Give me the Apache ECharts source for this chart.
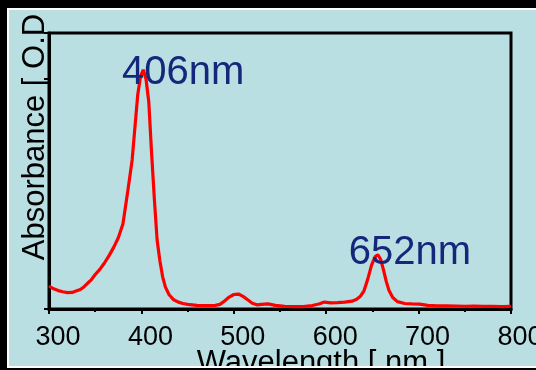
<!DOCTYPE html>
<html>
<head>
<meta charset="utf-8">
<script src="https://cdn.jsdelivr.net/npm/echarts@6/dist/echarts.min.js"></script>
<style>html,body{margin:0;padding:0;background:#000;}#c{width:536px;height:370px;}</style>
</head>
<body>
<div id="c"></div>
<script>
// Data
var wavelength = [300,305,310,315,320,325,330,334,338,342,346,350,355,360,365,370,375,380,385,390,393,396,399,402,405,408,411,414,417,420,423,426,430,435,440,445,450,460,470,480,485,490,495,500,505,510,515,520,525,530,537,545,555,565,575,585,592,598,605,612,620,628,633,637,641,645,649,653,656,659,662,665,668,672,677,685,693,701,710,720,730,741,750,760,770,780,790,800];
var absorbance = [0.100,0.088,0.080,0.075,0.071,0.072,0.079,0.085,0.097,0.113,0.128,0.150,0.172,0.200,0.232,0.268,0.310,0.370,0.505,0.648,0.790,0.930,1.010,1.040,1.000,0.900,0.680,0.480,0.300,0.210,0.140,0.095,0.062,0.040,0.030,0.024,0.020,0.016,0.015,0.016,0.020,0.035,0.052,0.063,0.065,0.055,0.040,0.025,0.018,0.020,0.022,0.016,0.012,0.010,0.010,0.015,0.022,0.030,0.027,0.028,0.030,0.034,0.042,0.055,0.080,0.130,0.190,0.228,0.236,0.215,0.170,0.120,0.080,0.050,0.032,0.024,0.022,0.021,0.016,0.014,0.014,0.013,0.012,0.013,0.011,0.012,0.010,0.012];
var xTicks = [300,400,500,600,700,800];
var peakNames = ['406nm','652nm'];
var peakCoords = [[402,1.04],[656,0.236]];
var xTitle = 'Wavelength [ nm ]';
var yTitle = 'Absorbance [ O.D';

var seriesData = wavelength.map(function(w,i){return [w,absorbance[i]];});
var FONT = '"Liberation Sans", Arial, sans-serif';

var chart = echarts.init(document.getElementById('c'), null, {renderer:'canvas'});
chart.setOption({
  backgroundColor:'#000',
  animation:false,
  graphic:[
    {type:'rect', z:-100, shape:{x:7,y:8,width:529,height:360}, style:{fill:'#ffffff'}},
    {type:'rect', z:-99, shape:{x:9,y:10,width:527,height:356}, style:{fill:'#b9dfe3'}},
    {type:'rect', z:100, shape:{x:7,y:366,width:529,height:2}, style:{fill:'#ffffff'}},
    {type:'rect', z:100, shape:{x:0,y:368,width:536,height:2}, style:{fill:'#000000'}},
    {type:'rect', z:100, shape:{x:0,y:0,width:536,height:8}, style:{fill:'#000000'}},
    {type:'rect', z:100, shape:{x:7,y:8,width:529,height:2}, style:{fill:'#ffffff'}}
  ],
  grid:{left:49,right:25,top:33,bottom:61,show:true,borderColor:'#000',borderWidth:3,backgroundColor:'transparent',containLabel:false,outerBoundsMode:'none'},
  xAxis:{
    type:'value', min:xTicks[0], max:xTicks[xTicks.length-1], interval:100,
    name:xTitle, nameLocation:'middle', nameGap:39, nameMoveOverlap:false,
    nameTextStyle:{fontFamily:FONT,fontSize:31,color:'#000',padding:[0,0,0,82]},
    axisLine:{lineStyle:{color:'#000',width:3}},
    axisTick:{inside:false,length:5,lineStyle:{color:'#000',width:2}},
    minorTick:{show:true,splitNumber:2,length:3,lineStyle:{color:'#000',width:2}},
    splitLine:{show:false},
    axisLabel:{fontFamily:FONT,fontSize:27,color:'#000',margin:15,padding:[0,0,0,18],showMaxLabel:true,showMinLabel:true,hideOverlap:false}
  },
  yAxis:{
    type:'value', min:0, max:1.2, interval:1,
    name:yTitle, nameLocation:'middle', nameRotate:90, nameGap:-2, nameMoveOverlap:false,
    nameTextStyle:{fontFamily:FONT,fontSize:31,color:'#000',padding:[0,0,0,68]},
    axisLine:{lineStyle:{color:'#000',width:3}},
    axisTick:{inside:false,length:5,lineStyle:{color:'#000',width:2}},
    splitLine:{show:false},
    axisLabel:{show:false}
  },
  series:[{
    type:'line', data:seriesData, showSymbol:false, smooth:false,
    lineStyle:{color:'#ff0000',width:3.2},
    markPoint:{
      symbol:'circle', symbolSize:0,
      label:{show:true,fontFamily:FONT,fontSize:40,color:'#15277a',position:'inside'},
      data:[
        {name:peakNames[0],coord:peakCoords[0],label:{formatter:peakNames[0],offset:[40,3]}},
        {name:peakNames[1],coord:peakCoords[1],label:{formatter:peakNames[1],offset:[32,-2]}}
      ]
    }
  }]
});
</script>
</body>
</html>
